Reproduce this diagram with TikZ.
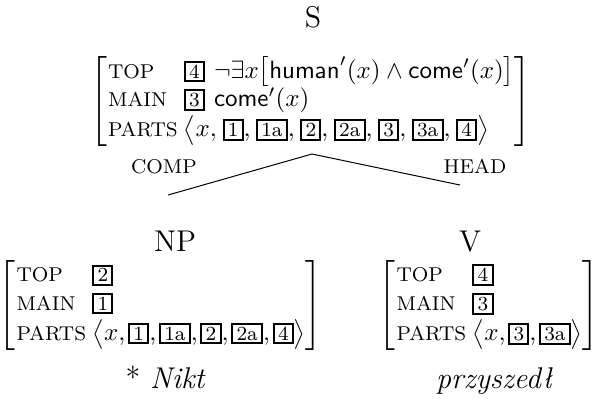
\documentclass[tikz,border=0pt]{standalone}
\usepackage{amsmath,amssymb}
\newcommand{\tg}[1]{{\setlength{\fboxsep}{0.8pt}\setlength{\fboxrule}{0.8pt}\fbox{\footnotesize\kern0.5pt#1\kern0.5pt}}}
\newcommand{\cm}{{,}\mkern2mu}
\newcommand{\cmw}{{,}\mkern4mu}
\newcommand{\avmat}[1]{$\renewcommand{\arraystretch}{0.95}\left[\begin{array}{@{\hspace{0.5pt}}l@{\hspace{2.5pt}}l@{}}#1\end{array}\right]$}
\newcommand{\att}[1]{\text{\footnotesize #1}}
\tikzset{
  cat/.style={font=\large, inner sep=0pt, anchor=base},
  avmbox/.style={inner sep=0pt},
  edgelab/.style={font=\footnotesize, inner sep=0pt, anchor=base},
  word/.style={font=\large\itshape, inner sep=0pt, anchor=base},
  branch/.style={line width=0.4pt}
}
\begin{document}
\begin{tikzpicture}[x=0.40pt,y=-0.40pt]
\useasboundingbox (0,0) rectangle (598,401);
\node[cat] (S) at (313,27) {S};
\node[avmbox] (top) at (310.5,101) {\avmat{
  \att{TOP} & \tg{4}\hspace{3.6pt}\neg\exists x\bigl[\mathsf{human}'(x)\wedge\mathsf{come}'(x)\bigr]\\
  \att{MAIN} & \tg{3}\hspace{3.6pt}\mathsf{come}'(x)\\
  \att{PARTS} & \bigl\langle x\cmw\tg{1}\cmw\tg{1a}\cmw\tg{2}\cmw\tg{2a}\cmw\tg{3}\cmw\tg{3a}\cmw\tg{4}\bigr\rangle
}};
\coordinate (apex) at (312,154);
\coordinate (cl) at (168,195);
\coordinate (cr) at (460,185);
\draw[branch] (cl) -- (apex) -- (cr);
\node[edgelab] (comp) at (164,173) {COMP};
\node[edgelab] (head) at (475,173) {HEAD};
\node[cat] (NP) at (175,251) {NP};
\node[cat] (V) at (470,251) {V};
\node[avmbox] (np) at (160.5,305.5) {\avmat{
  \att{TOP} & \tg{2}\\
  \att{MAIN} & \tg{1}\\
  \att{PARTS} & \bigl\langle x\cm\tg{1}\cm\tg{1a}\cm\tg{2}\cm\tg{2a}\cm\tg{4}\bigr\rangle
}};
\node[avmbox] (v) at (489,305.5) {\avmat{
  \att{TOP} & \tg{4}\\
  \att{MAIN} & \tg{3}\\
  \att{PARTS} & \bigl\langle x\cm\tg{3}\cm\tg{3a}\bigr\rangle
}};
\node[word] (nikt) at (165,388) {\upshape *\ \itshape Nikt};
\node[word] (przyszedl) at (494,388) {przyszed\l};
\end{tikzpicture}
\end{document}
